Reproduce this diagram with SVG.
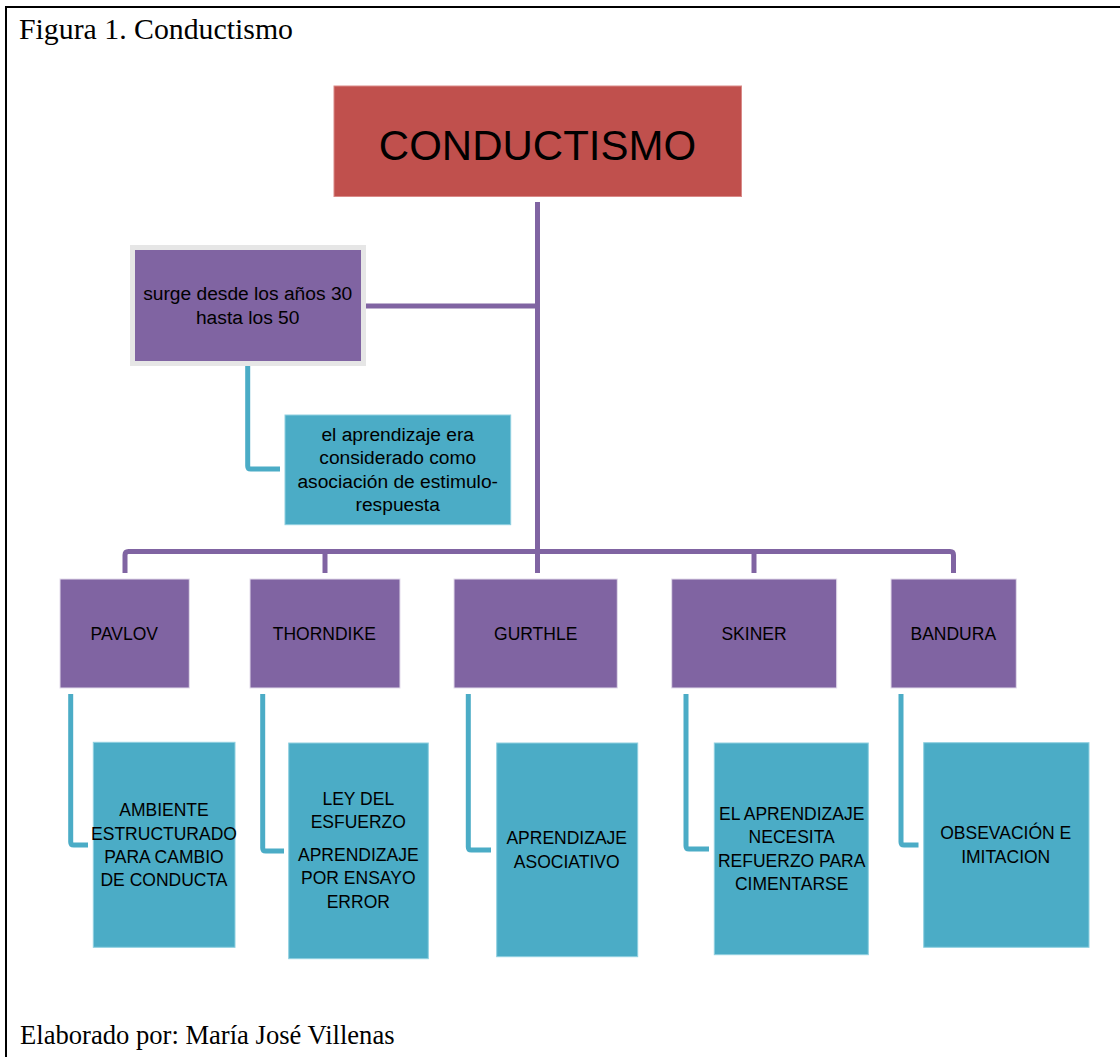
<svg xmlns="http://www.w3.org/2000/svg" width="1120" height="1057" viewBox="0 0 1120 1057">
<style>
.serif{font-family:"Liberation Serif","Times New Roman",serif;fill:#000}
.t{font-family:"Liberation Sans",Arial,sans-serif;fill:#000;text-anchor:middle}
.lc{font-size:19.2px}
.uc{font-size:17.5px}
.purple{fill:#8064A2;stroke:#E3DCEC;stroke-width:1}
.cyan{fill:#4BACC6;stroke:#8FD0E0;stroke-width:1}
.pc{fill:none;stroke:#8064A2;stroke-width:5;stroke-linejoin:round}
.cc{fill:none;stroke:#4BACC6;stroke-width:5;stroke-linejoin:round}
</style>
<rect x="0" y="0" width="1120" height="1057" fill="#fff"/>
<rect x="6" y="7" width="1130" height="1070" fill="none" stroke="#000" stroke-width="2"/>
<text class="serif" x="19" y="39" font-size="29.8">Figura 1. Conductismo</text>
<text class="serif" x="20" y="1044" font-size="26.6">Elaborado por: María José Villenas</text>

<g id="connectors">
<path class="pc" d="M537.5 202 V573"/>
<path class="pc" d="M366 306 H537.5"/>
<path class="pc" d="M125 573 V555 Q125 551.5 128.5 551.5 H950 Q953.5 551.5 953.5 555 V573"/>
<path class="pc" d="M325 551.5 V573"/>
<path class="pc" d="M754 551.5 V573"/>
<path class="cc" d="M247.7 366 V466 Q247.7 469 250.7 469 H280"/>
<path class="cc" d="M70.7 694 V842 Q70.7 845 73.7 845 H88"/>
<path class="cc" d="M262.7 694 V848 Q262.7 851 265.7 851 H284"/>
<path class="cc" d="M468.3 694 V847 Q468.3 850 471.3 850 H491"/>
<path class="cc" d="M686 694 V846 Q686 849 689 849 H709"/>
<path class="cc" d="M901 694 V842 Q901 845 904 845 H918.5"/>
</g>

<g id="conductismo">
<rect x="334" y="86" width="407.5" height="110.5" fill="#C0504D" stroke="#D98A88" stroke-width="1"/>
<text class="t" x="537.5" y="160" font-size="42">CONDUCTISMO</text>
</g>

<g id="surge">
<rect x="132.5" y="247.5" width="231" height="116" fill="#8064A2" stroke="#E6E6E6" stroke-width="5"/>
<text class="t lc" x="247.7" y="300">surge desde los años 30</text>
<text class="t lc" x="247.7" y="324">hasta los 50</text>
</g>

<g id="aprendizaje">
<rect class="cyan" x="285" y="415" width="225.7" height="109.7"/>
<text class="t lc" x="397.7" y="441">el aprendizaje era</text>
<text class="t lc" x="397.7" y="464.3">considerado como</text>
<text class="t lc" x="397.7" y="487.6">asociación de estimulo-</text>
<text class="t lc" x="397.7" y="510.9">respuesta</text>
</g>

<g id="pavlov">
<rect class="purple" x="60" y="579" width="129.3" height="109"/>
<text class="t uc" x="124.3" y="640">PAVLOV</text>
</g>
<g id="thorndike">
<rect class="purple" x="250" y="579" width="150" height="109"/>
<text class="t uc" x="324.3" y="640">THORNDIKE</text>
</g>
<g id="gurthle">
<rect class="purple" x="454" y="579" width="163.3" height="109"/>
<text class="t uc" x="535.7" y="640">GURTHLE</text>
</g>
<g id="skiner">
<rect class="purple" x="671.7" y="579" width="165" height="109"/>
<text class="t uc" x="754" y="640">SKINER</text>
</g>
<g id="bandura">
<rect class="purple" x="891" y="579" width="125.3" height="109"/>
<text class="t uc" x="953.3" y="640">BANDURA</text>
</g>

<g id="pavlov-desc">
<rect class="cyan" x="93.3" y="742.3" width="141.7" height="205"/>
<text class="t uc" x="164" y="816">AMBIENTE</text>
<text class="t uc" x="164" y="839.5">ESTRUCTURADO</text>
<text class="t uc" x="164" y="862.8">PARA CAMBIO</text>
<text class="t uc" x="164" y="886.1">DE CONDUCTA</text>
</g>
<g id="thorndike-desc">
<rect class="cyan" x="288.7" y="743" width="139.6" height="215.7"/>
<text class="t uc" x="358.3" y="805">LEY DEL</text>
<text class="t uc" x="358.3" y="828.3">ESFUERZO</text>
<text class="t uc" x="358.3" y="860.7">APRENDIZAJE</text>
<text class="t uc" x="358.3" y="884.2">POR ENSAYO</text>
<text class="t uc" x="358.3" y="907.7">ERROR</text>
</g>
<g id="gurthle-desc">
<rect class="cyan" x="496.7" y="743" width="141" height="213.7"/>
<text class="t uc" x="566.7" y="844">APRENDIZAJE</text>
<text class="t uc" x="566.7" y="867.7">ASOCIATIVO</text>
</g>
<g id="skiner-desc">
<rect class="cyan" x="714.3" y="743" width="154" height="211.7"/>
<text class="t uc" x="791.7" y="820">EL APRENDIZAJE</text>
<text class="t uc" x="791.7" y="843.3">NECESITA</text>
<text class="t uc" x="791.7" y="866.7">REFUERZO PARA</text>
<text class="t uc" x="791.7" y="890">CIMENTARSE</text>
</g>
<g id="bandura-desc">
<rect class="cyan" x="923.7" y="742.7" width="165.3" height="204.6"/>
<text class="t uc" x="1005.7" y="839">OBSEVACIÓN E</text>
<text class="t uc" x="1005.7" y="862.7">IMITACION</text>
</g>
</svg>
